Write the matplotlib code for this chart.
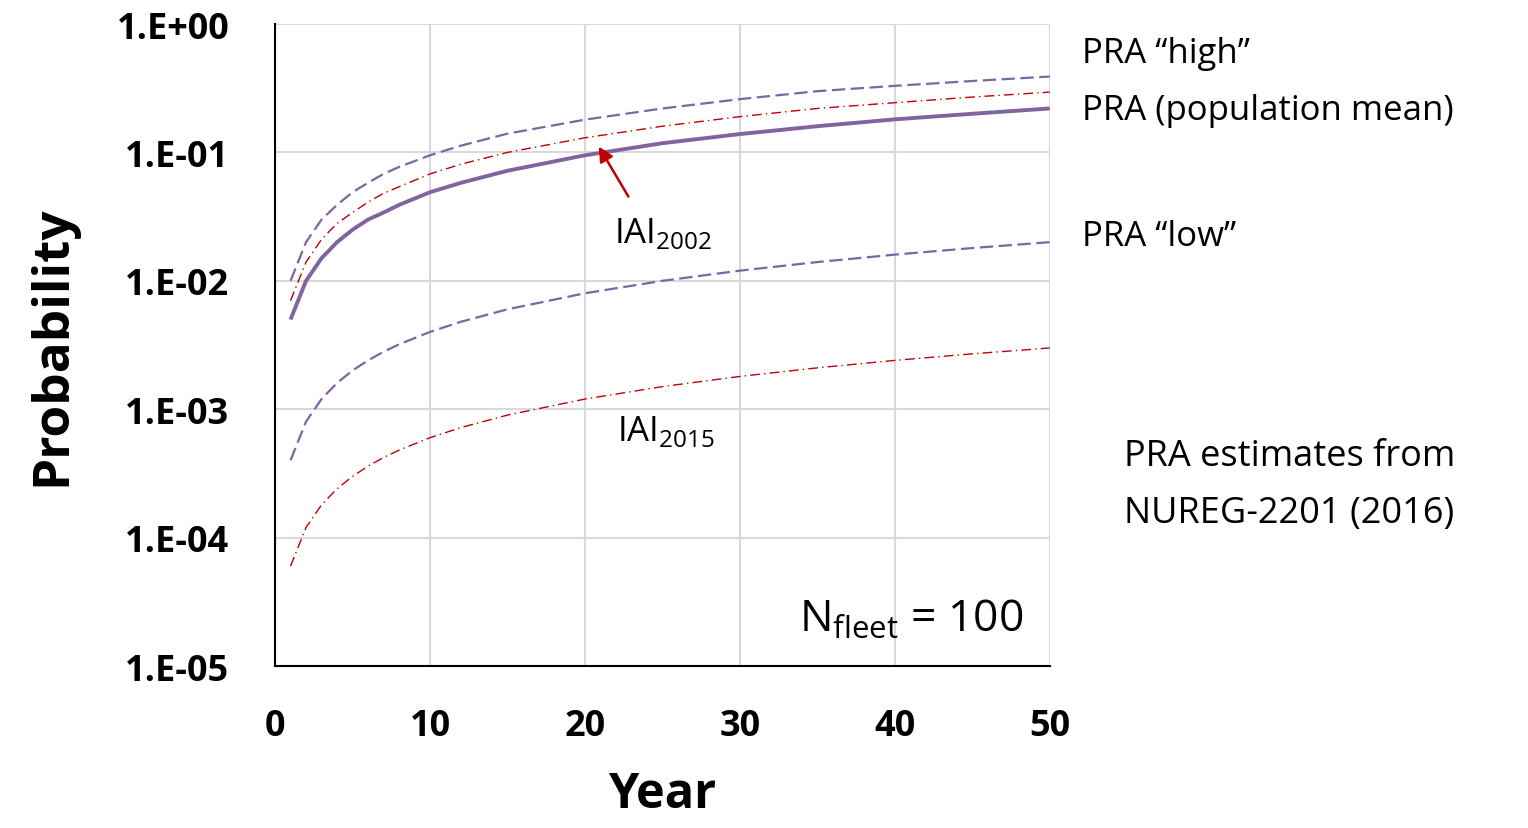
import numpy as np
import matplotlib
matplotlib.use('Agg')
from matplotlib import pyplot as plt

years = [1, 2, 3, 4, 5, 6, 7, 8, 10, 12, 15, 20, 25, 30, 35, 40, 45, 50]
pra_high = [0.010, 0.020, 0.030, 0.039, 0.049, 0.058, 0.068, 0.077, 0.095, 0.113, 0.14, 0.18, 0.22, 0.26, 0.30, 0.33, 0.36, 0.39]
pra_mean = [0.005, 0.010, 0.015, 0.020, 0.025, 0.030, 0.034, 0.039, 0.049, 0.058, 0.072, 0.095, 0.118, 0.139, 0.16, 0.181, 0.20, 0.22]
iai_2002 = [0.007, 0.014, 0.021, 0.028, 0.034, 0.041, 0.048, 0.054, 0.068, 0.081, 0.10, 0.13, 0.16, 0.19, 0.22, 0.244, 0.27, 0.295]
pra_low = [0.0004, 0.0008, 0.0012, 0.0016, 0.002, 0.0024, 0.0028, 0.0032, 0.004, 0.0048, 0.006, 0.008, 0.010, 0.012, 0.014, 0.016, 0.018, 0.020]
iai_2015 = [6e-5, 1.2e-4, 1.8e-4, 2.4e-4, 3e-4, 3.6e-4, 4.2e-4, 4.8e-4, 6e-4, 7.2e-4, 9e-4, 1.2e-3, 1.5e-3, 1.8e-3, 2.1e-3, 2.4e-3, 2.7e-3, 3.0e-3]

yticks = [1e0, 1e-1, 1e-2, 1e-3, 1e-4, 1e-5]
ytick_labels = ['1.E+00', '1.E-01', '1.E-02', '1.E-03', '1.E-04', '1.E-05']
xticks = [0, 10, 20, 30, 40, 50]

purple = '#8064A2'
red = '#C00000'

plt.rcParams['font.family'] = ['Open Sans', 'DejaVu Sans']

fig = plt.figure(figsize=(15.28, 8.29), dpi=100)
ax = fig.add_axes([0.18, 0.1954, 0.507, 0.7744])

ax.plot(years, pra_high, color=purple, lw=1.6, ls=(0, (6, 2.5)))
ax.plot(years, iai_2002, color=red, lw=1.0, ls=(0, (7, 3, 1, 3)))
ax.plot(years, pra_mean, color=purple, lw=2.8, solid_capstyle='butt')
ax.plot(years, pra_low, color=purple, lw=1.6, ls=(0, (6, 2.5)))
ax.plot(years, iai_2015, color=red, lw=1.0, ls=(0, (7, 3, 1, 3)))

ax.set_yscale('log')
ax.set_ylim(1e-5, 1)
ax.set_xlim(0, 50)
ax.set_yticks(yticks)
ax.set_yticklabels(ytick_labels)
ax.minorticks_off()
ax.set_xticks(xticks)
ax.grid(True, color='#d9d9d9', lw=1.5)
ax.set_axisbelow(True)
for s in ['top', 'right']:
    ax.spines[s].set_visible(False)
for s in ['left', 'bottom']:
    ax.spines[s].set_linewidth(1.5)
ax.tick_params(axis='y', length=0, labelsize=26, pad=33)
ax.tick_params(axis='x', length=0, labelsize=26, pad=30)
for lab in ax.get_xticklabels() + ax.get_yticklabels():
    lab.set_fontweight('bold')

ax.set_xlabel('Year', fontsize=35, fontweight='bold', labelpad=19)
ax.set_ylabel('Probability', fontsize=37, fontweight='bold', labelpad=28)

ax.text(52.1, 0.60, 'PRA \u201chigh\u201d', fontsize=25, va='center')
ax.text(52.1, 0.215, 'PRA (population mean)', fontsize=25, va='center')
ax.text(52.1, 0.0225, 'PRA \u201clow\u201d', fontsize=25, va='center')
ax.text(54.8, 4.3e-4, 'PRA estimates from', fontsize=26, va='center')
ax.text(54.8, 1.55e-4, 'NUREG-2201 (2016)', fontsize=26, va='center')

ax.text(21.9, 0.024, r'IAI$_{\mathregular{2002}}$', fontsize=25, va='center')
ax.text(22.1, 6.8e-4, r'IAI$_{\mathregular{2015}}$', fontsize=25, va='center')
ax.text(48.3, 2.3e-5, r'N$_{\mathregular{fleet}}$ = 100', fontsize=32, ha='right', va='center')

ax.annotate('', xy=(20.8, 0.116), xytext=(22.9, 0.0434),
            arrowprops=dict(arrowstyle='-|>', color=red, lw=1.8, mutation_scale=22))

fig.savefig('out.png', dpi=100)
